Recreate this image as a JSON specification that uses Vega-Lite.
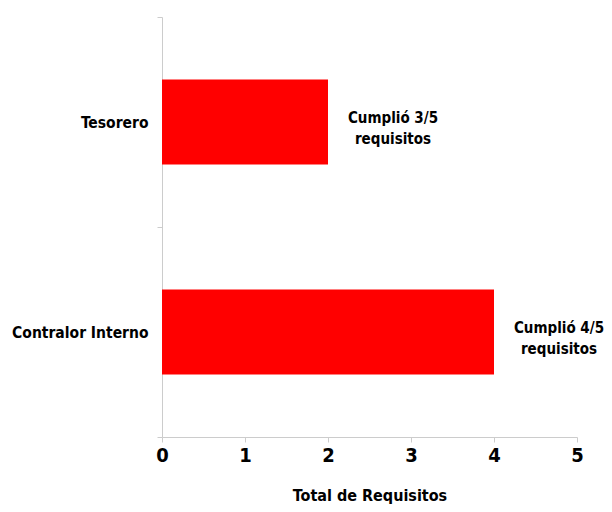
{
  "$schema": "https://vega.github.io/schema/vega-lite/v6.json",
  "autosize": {"type": "none"},
  "padding": {"left": 162, "top": 17, "right": 35, "bottom": 75},
  "width": 415,
  "height": 420,
  "background": "white",
  "data": {
    "values": [
      {"cargo": "Tesorero", "total": 2, "nota": "Cumplió 3/5\nrequisitos"},
      {"cargo": "Contralor Interno", "total": 4, "nota": "Cumplió 4/5\nrequisitos"}
    ]
  },
  "config": {
    "view": {"stroke": null},
    "font": "DejaVu Sans Condensed, Liberation Sans, sans-serif"
  },
  "encoding": {
    "y": {
      "field": "cargo",
      "type": "nominal",
      "sort": null,
      "scale": {"paddingInner": 0, "paddingOuter": 0},
      "axis": {
        "title": null,
        "domainColor": "#cccccc",
        "tickColor": "#cccccc",
        "tickBand": "extent",
        "tickSize": 5,
        "labelFont": "DejaVu Sans Condensed, Liberation Sans, sans-serif",
        "labelFontSize": 15.5,
        "labelFontWeight": "bold",
        "labelColor": "#000000",
        "labelPadding": 9
      }
    },
    "x": {
      "field": "total",
      "type": "quantitative",
      "scale": {"domain": [0, 5]},
      "axis": {
        "title": "Total de Requisitos",
        "values": [0, 1, 2, 3, 4, 5],
        "format": "d",
        "grid": false,
        "labelFlush": false,
        "domainColor": "#cccccc",
        "tickColor": "#cccccc",
        "tickSize": 5,
        "labelFont": "DejaVu Sans Condensed, Liberation Sans, sans-serif",
        "labelFontSize": 20,
        "labelFontWeight": "bold",
        "labelColor": "#000000",
        "labelPadding": 3,
        "titleFont": "DejaVu Sans Condensed, Liberation Sans, sans-serif",
        "titleFontSize": 16,
        "titleFontWeight": "bold",
        "titleColor": "#000000",
        "titlePadding": 22
      }
    }
  },
  "layer": [
    {"mark": {"type": "bar", "color": "#ff0000", "height": {"band": 0.405}}},
    {
      "mark": {
        "type": "text",
        "align": "center",
        "baseline": "middle",
        "dx": 65,
        "dy": -4,
        "lineBreak": "\n",
        "lineHeight": 21,
        "font": "DejaVu Sans Condensed, Liberation Sans, sans-serif",
        "fontSize": 15,
        "fontWeight": "bold",
        "color": "#000000"
      },
      "encoding": {"text": {"field": "nota"}}
    }
  ]
}
